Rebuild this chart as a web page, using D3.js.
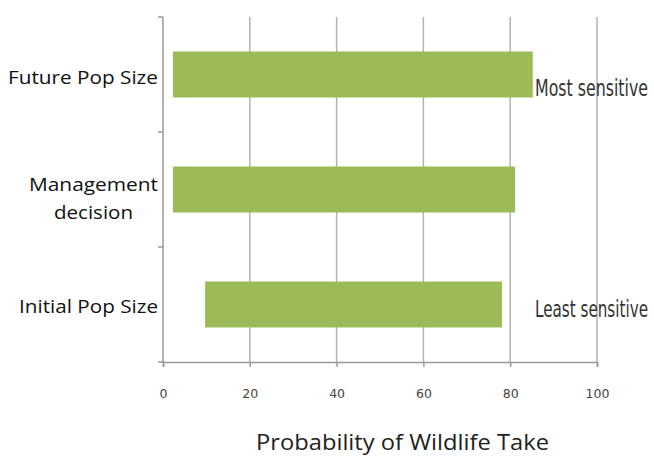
<!DOCTYPE html>
<html><head><meta charset="utf-8">
<script src="https://cdn.jsdelivr.net/npm/d3@7"></script>
<style>body{margin:0;background:#fff}svg{display:block}</style>
</head><body>
<svg id="c" width="654" height="457"></svg>
<script>
const categories = ["Future Pop Size", "Management decision", "Initial Pop Size"];
const lowValues = [2.3, 2.3, 9.7];
const highValues = [85.2, 81.1, 78.1];
const xTicks = [0, 20, 40, 60, 80, 100];
const annotations = [{cat: "Future Pop Size", text: "Most sensitive"}, {cat: "Initial Pop Size", text: "Least sensitive"}];

const svg = d3.select("#c");
const m = {l: 163, r: 57, t: 17, b: 95};
const W = 654, H = 457;
const x = d3.scaleLinear().domain([0, 100]).range([m.l, W - m.r]);
const y = d3.scaleBand().domain(categories).range([m.t, H - m.b]).paddingInner(0.6).paddingOuter(0.3);
const yb = d3.scaleBand().domain(categories).range([m.t, H - m.b]);

// gridlines
svg.append("g").selectAll("line").data(xTicks.filter(d => d > 0)).join("line")
  .attr("x1", d => x(d)).attr("x2", d => x(d))
  .attr("y1", m.t).attr("y2", H - m.b)
  .attr("stroke", "#b3b3b3").attr("stroke-width", 1.5);

// bars
svg.append("g").selectAll("rect").data(categories).join("rect")
  .attr("x", (d, i) => x(lowValues[i]))
  .attr("width", (d, i) => x(highValues[i]) - x(lowValues[i]))
  .attr("y", d => y(d)).attr("height", y.bandwidth())
  .attr("fill", "#9bbb59");

// x axis
const xa = svg.append("g").attr("transform", `translate(0,${H - m.b})`)
  .call(d3.axisBottom(x).tickValues(xTicks).tickSize(5).tickPadding(22).tickFormat(d3.format("d")));
xa.select(".domain").attr("stroke", "#999").attr("stroke-width", 1.5);
xa.selectAll(".tick line").attr("stroke", "#999").attr("stroke-width", 1.5);
xa.selectAll("text").attr("fill", "#444").attr("font-family", "DejaVu Sans").attr("font-size", 12.5);

// y axis
const ticksY = categories.map(c => yb(c)).concat([H - m.b]);
svg.append("line").attr("x1", m.l).attr("x2", m.l).attr("y1", m.t).attr("y2", H - m.b)
  .attr("stroke", "#999").attr("stroke-width", 1.5);
svg.append("g").selectAll("line").data(ticksY).join("line")
  .attr("x1", m.l - 5).attr("x2", m.l).attr("y1", d => d).attr("y2", d => d)
  .attr("stroke", "#999").attr("stroke-width", 1.5);

// category labels
const lab = svg.append("g").attr("font-family", "Open Sans").attr("font-size", 17.5).attr("fill", "#111");
categories.forEach(c => {
  const cy = yb(c) + yb.bandwidth() / 2;
  if (c === "Management decision") {
    lab.append("text").attr("x", 93.5).attr("y", cy + 1).attr("text-anchor", "middle")
      .attr("textLength", 129).attr("lengthAdjust", "spacingAndGlyphs").text("Management");
    lab.append("text").attr("x", 93.5).attr("y", cy + 29).attr("text-anchor", "middle")
      .attr("textLength", 79).attr("lengthAdjust", "spacingAndGlyphs").text("decision");
  } else {
    lab.append("text").attr("x", 158).attr("y", cy + (c === "Future Pop Size" ? 9 : 8)).attr("text-anchor", "end")
      .attr("textLength", c === "Future Pop Size" ? 150 : 139).attr("lengthAdjust", "spacingAndGlyphs").text(c);
  }
});

// annotations (tall, condensed lettering)
svg.append("g").selectAll("text").data(annotations).join("text")
  .attr("transform", (d, i) => `translate(535,${yb(d.cat) + yb.bandwidth() / 2 + (i === 0 ? 21 : 12)}) scale(1,1.7)`)
  .attr("font-family", "DejaVu Sans Condensed, DejaVu Sans").attr("font-size", 14).attr("fill", "#333")
  .attr("textLength", 113).attr("lengthAdjust", "spacingAndGlyphs")
  .text(d => d.text);

// axis title
svg.append("text").attr("x", (256 + 549) / 2).attr("y", 450).attr("text-anchor", "middle")
  .attr("font-family", "Open Sans").attr("font-size", 21).attr("fill", "#222")
  .attr("textLength", 293).attr("lengthAdjust", "spacingAndGlyphs").text("Probability of Wildlife Take");
</script>
</body></html>
